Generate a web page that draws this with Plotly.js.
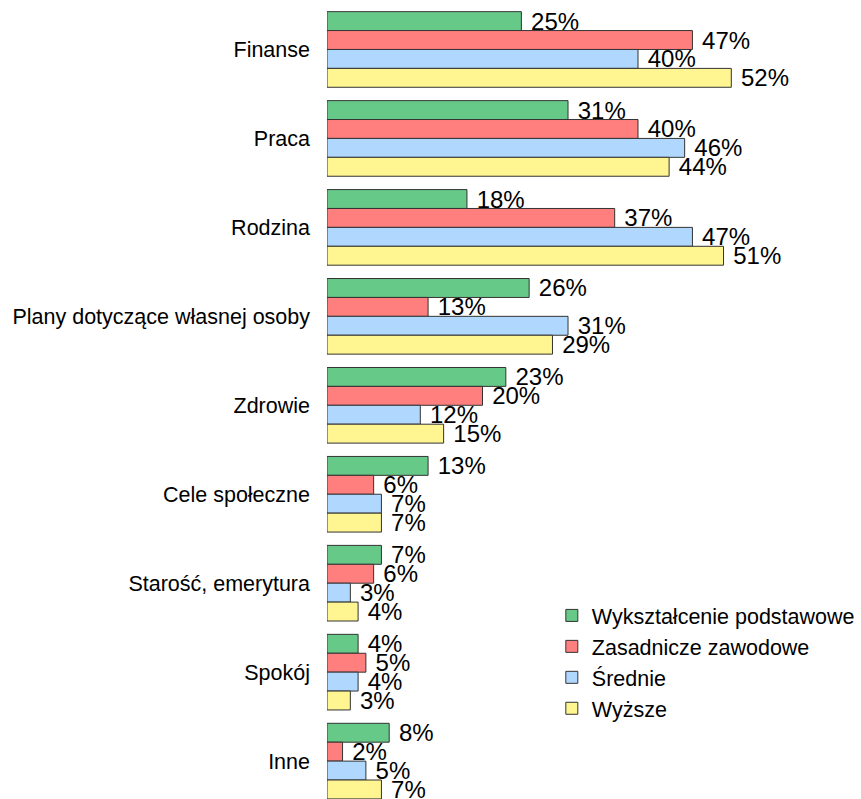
<!DOCTYPE html>
<html>
<head>
<meta charset="utf-8">
<script src="https://cdn.plot.ly/plotly-3.0.1.min.js"></script>
<style>html,body{margin:0;padding:0;background:#fff;}#chart{width:861px;height:799px;}</style>
</head>
<body>
<div id="chart"></div>
<script>
const categories = ["Finanse", "Praca", "Rodzina", "Plany dotyczące własnej osoby", "Zdrowie", "Cele społeczne", "Starość, emerytura", "Spokój", "Inne"];
const seriesNames = ["Wykształcenie podstawowe", "Zasadnicze zawodowe", "Średnie", "Wyższe"];
const podstawowe = [25, 31, 18, 26, 23, 13, 7, 4, 8];
const zawodowe = [47, 40, 37, 13, 20, 6, 6, 5, 2];
const srednie = [40, 46, 47, 31, 12, 7, 3, 4, 5];
const wyzsze = [52, 44, 51, 29, 15, 7, 4, 3, 7];
const seriesValues = [podstawowe, zawodowe, srednie, wyzsze];
const colors = ["#66c987", "#ff7f7f", "#b0d8ff", "#fff591"];

const font = "Arial, 'Liberation Sans', sans-serif";
const traces = seriesValues.map((vals, i) => ({
  type: "bar",
  orientation: "h",
  name: seriesNames[i],
  y: categories,
  x: vals,
  marker: {color: colors[i], line: {color: "#333333", width: 1}},
  texttemplate: "\u00a0%{x}%",
  textposition: "outside",
  constraintext: "none",
  cliponaxis: false,
  textfont: {family: font, size: 24, color: "#000"},
  hoverinfo: "none"
}));

const layout = {
  width: 861, height: 799,
  margin: {l: 327, r: 0, t: 5, b: 0, pad: 0, autoexpand: false},
  paper_bgcolor: "#fff", plot_bgcolor: "#fff",
  barmode: "group",
  bargap: 0.15,
  bargroupgap: 0,
  font: {family: font, color: "#000"},
  xaxis: {range: [0, 68.68], autorange: false, showgrid: false, zeroline: false, showline: false, showticklabels: false, ticks: ""},
  yaxis: {type: "category", range: [8.426, -0.5], autorange: false, showgrid: false, zeroline: false, showline: false, ticks: "", ticklabelstandoff: 16, tickfont: {family: font, size: 21.5, color: "#000"}},
  showlegend: true,
  legend: {xref: "paper", yref: "paper", x: 0.421, y: 0.257, xanchor: "left", yanchor: "top", font: {family: font, size: 21.5, color: "#000"}, bgcolor: "rgba(0,0,0,0)", traceorder: "normal"}
};

Plotly.newPlot("chart", traces, layout, {displayModeBar: false, staticPlot: true});
</script>
</body>
</html>
